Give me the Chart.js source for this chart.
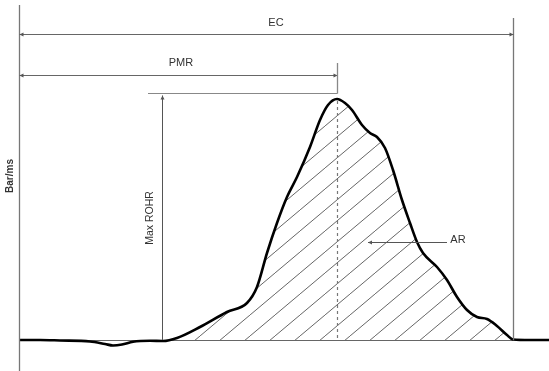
<!DOCTYPE html>
<html>
<head>
<meta charset="utf-8">
<style>
  html, body { margin: 0; padding: 0; background: #fff; }
  canvas { display: block; }
</style>
<script src="https://cdn.jsdelivr.net/npm/chart.js@4"></script>
</head>
<body>
<canvas id="chart" width="549" height="371"></canvas>
<script>
// Положение по оси X (условные единицы) и скорость тепловыделения
const time = [19, 40, 60, 90, 105, 113, 122, 133, 150, 163, 177, 200, 227, 247, 257, 267, 277, 287, 297, 310,
              320, 328, 337, 345, 352, 362, 370, 377, 385, 393, 402, 410, 417, 423, 437, 447, 457, 467, 477, 487,
              497, 507, 513, 530, 549];
const rohr = [0, 0, -0.5, -1.5, -4, -5.5, -4.5, -1.7, -0.7, -1, 2, 13, 28, 37, 53, 87, 117, 143, 163, 193,
              220, 235, 241, 237, 230, 215, 207, 203, 192, 170, 140, 117, 98, 87, 73, 60, 43, 30, 23, 21,
              14, 5, 0.5, 0, 0];

// Подписи
const labels = { ec: 'EC', pmr: 'PMR', maxRohr: 'Max ROHR', ar: 'AR', yAxis: 'Bar/ms' };

// Начало и конец горения, пик
const startTime = time[0];
const endTime = 513;
const maxRohr = Math.max(...rohr);
const peakTime = time[rohr.indexOf(maxRohr)];

// Штриховка
function makeHatch() {
    const c = document.createElement('canvas');
    const w = 25, h = 21;
    c.width = w; c.height = h;
    const g = c.getContext('2d');
    g.strokeStyle = '#555';
    g.lineWidth = 0.9;
    g.beginPath();
    g.moveTo(0, h); g.lineTo(w, 0);
    g.moveTo(-w, h); g.lineTo(0, 0);
    g.moveTo(w, h); g.lineTo(2 * w, 0);
    g.stroke();
    return g.createPattern(c, 'repeat');
}

function arrowHead(ctx, x, y, dir) {
    // dir: 'left', 'right', 'up'
    ctx.beginPath();
    if (dir === 'left') { ctx.moveTo(x, y); ctx.lineTo(x + 4, y - 2); ctx.lineTo(x + 4, y + 2); }
    if (dir === 'right') { ctx.moveTo(x, y); ctx.lineTo(x - 4, y - 2); ctx.lineTo(x - 4, y + 2); }
    if (dir === 'up') { ctx.moveTo(x, y); ctx.lineTo(x - 2, y + 4); ctx.lineTo(x + 2, y + 4); }
    ctx.closePath();
    ctx.fill();
}

function line(ctx, x1, y1, x2, y2) {
    ctx.beginPath();
    ctx.moveTo(x1, y1);
    ctx.lineTo(x2, y2);
    ctx.stroke();
}

const annotations = {
    id: 'annotations',
    beforeDatasetsDraw(chart) {
        const ctx = chart.ctx;
        const xs = chart.scales.x, ys = chart.scales.y;
        const base = ys.getPixelForValue(0);
        ctx.save();
        ctx.strokeStyle = '#666';
        ctx.lineWidth = 1;
        line(ctx, xs.getPixelForValue(startTime), base + 0.5, xs.getPixelForValue(endTime), base + 0.5);
        ctx.restore();
    },
    afterDatasetsDraw(chart) {
        const ctx = chart.ctx;
        const xs = chart.scales.x, ys = chart.scales.y;
        const base = ys.getPixelForValue(0);
        const x0 = Math.round(xs.getPixelForValue(startTime)) + 0.5;
        const x1 = Math.round(xs.getPixelForValue(endTime)) + 0.5;
        const xp = Math.round(xs.getPixelForValue(peakTime)) + 0.5;
        const yp = ys.getPixelForValue(maxRohr);
        const yMax = Math.round(yp - 6) + 0.5;

        ctx.save();
        ctx.strokeStyle = '#777';
        ctx.fillStyle = '#555';
        ctx.lineWidth = 1.3;

        // Ось Y и правая граница
        line(ctx, x0, 5, x0, 371);
        line(ctx, x1, 18, x1, base);

        ctx.lineWidth = 1;
        ctx.strokeStyle = '#666';
        // EC
        const yEC = 34.5;
        line(ctx, x0, yEC, x1, yEC);
        arrowHead(ctx, x0, yEC, 'left');
        arrowHead(ctx, x1, yEC, 'right');

        // PMR
        const yPMR = 75.5;
        line(ctx, x0, yPMR, xp, yPMR);
        arrowHead(ctx, x0, yPMR, 'left');
        arrowHead(ctx, xp, yPMR, 'right');
        ctx.strokeStyle = '#888';
        ctx.lineWidth = 1.3;
        line(ctx, xp, 63, xp, yMax);

        // Max ROHR
        ctx.lineWidth = 1.2;
        line(ctx, 148, yMax, xp, yMax);
        ctx.strokeStyle = '#555';
        ctx.lineWidth = 1;
        line(ctx, 162.5, yMax + 2, 162.5, base);
        arrowHead(ctx, 162.5, yMax + 2, 'up');

        // Пунктир от пика
        ctx.strokeStyle = '#777';
        ctx.lineWidth = 1.2;
        ctx.setLineDash([3, 3]);
        line(ctx, xp, yp + 2, xp, base);
        ctx.setLineDash([]);

        // AR
        ctx.strokeStyle = '#555';
        ctx.lineWidth = 1;
        line(ctx, 368, 242.5, 447, 242.5);
        arrowHead(ctx, 368, 242.5, 'left');

        // Тексты
        ctx.fillStyle = '#333';
        ctx.font = '11px "Liberation Sans", Arial, sans-serif';
        ctx.textAlign = 'center';
        ctx.textBaseline = 'middle';
        ctx.fillText(labels.ec, 276, 23);
        ctx.fillText(labels.pmr, 181, 63);
        ctx.fillText(labels.ar, 458, 240);

        ctx.save();
        ctx.translate(150, 218);
        ctx.rotate(-Math.PI / 2);
        ctx.font = '10.5px "Liberation Sans", Arial, sans-serif';
        ctx.fillText(labels.maxRohr, 0, 0);
        ctx.restore();

        ctx.save();
        ctx.translate(10, 176);
        ctx.rotate(-Math.PI / 2);
        ctx.font = 'bold 10px "Liberation Sans", Arial, sans-serif';
        ctx.fillText(labels.yAxis, 0, 0);
        ctx.restore();

        ctx.restore();
    }
};

const ctx = document.getElementById('chart').getContext('2d');
const chart = new Chart(ctx, {
    type: 'line',
    data: {
        datasets: [{
            label: 'ROHR',
            data: time.map((t, i) => ({ x: t, y: rohr[i] })),
            borderColor: '#000',
            borderWidth: 2.6,
            pointRadius: 0,
            cubicInterpolationMode: 'monotone',
            fill: { target: { value: 0 }, above: makeHatch(), below: 'rgba(0,0,0,0)' }
        }]
    },
    options: {
        responsive: false,
        animation: false,
        layout: { padding: 0 },
        plugins: { legend: { display: false }, tooltip: { enabled: false } },
        scales: {
            x: { type: 'linear', min: 0, max: 549, display: false },
            y: { min: -31, max: 340, display: false }
        }
    },
    plugins: [annotations]
});
</script>
</body>
</html>
